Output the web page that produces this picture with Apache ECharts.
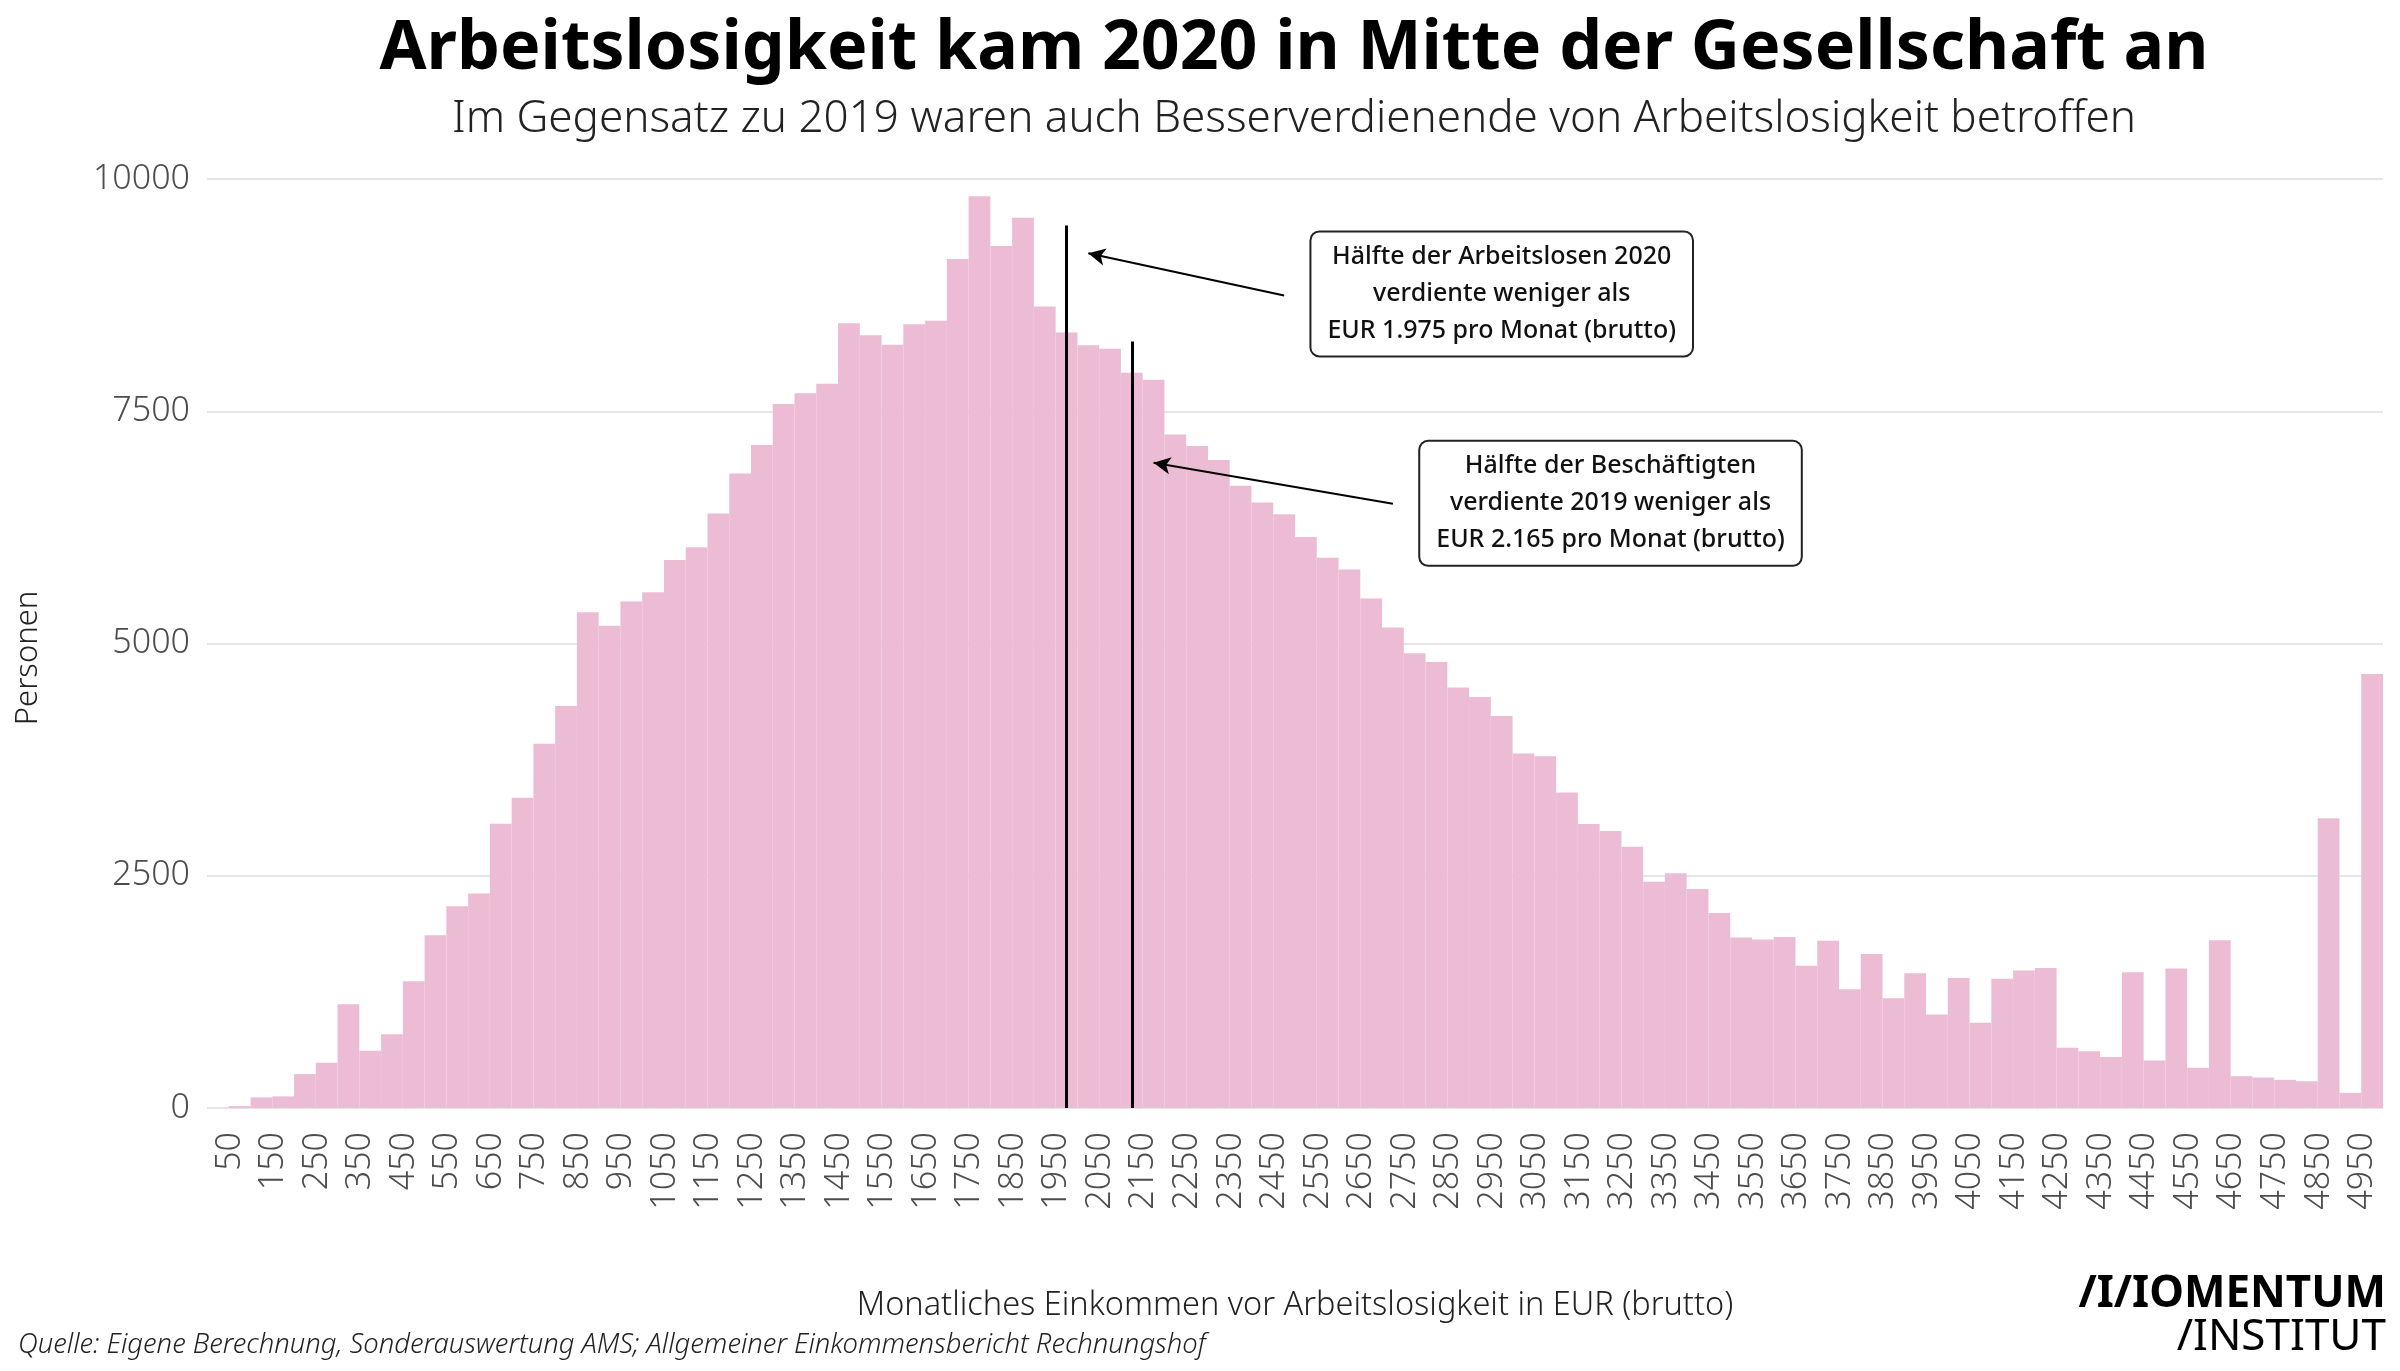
<!DOCTYPE html>
<html><head><meta charset="utf-8">
<script src="https://cdn.jsdelivr.net/npm/echarts@6/dist/echarts.min.js"></script>
<style>html,body{margin:0;padding:0;background:#fff}#c{width:2400px;height:1371px}</style>
</head><body><div id="c"></div>
<script>
// Income bins (EUR, brutto), 50-EUR steps; 5000 = 5000+
const categories = Array.from({length: 100}, (_, i) => String(50 + 50 * i));
// Persons per bin
const personen = [
  0, 20, 114, 125, 365, 487, 1118, 616, 795, 1365,
  1860, 2172, 2310, 3060, 3340, 3920, 4328, 5336, 5192, 5451,
  5552, 5898, 6037, 6400, 6830, 7136, 7579, 7695, 7795, 8447,
  8318, 8217, 8437, 8473, 9139, 9813, 9280, 9582, 8628, 8347,
  8210, 8174, 7914, 7839, 7251, 7126, 6974, 6697, 6517, 6391,
  6146, 5922, 5796, 5485, 5173, 4896, 4800, 4527, 4423, 4219,
  3815, 3785, 3396, 3058, 2981, 2812, 2435, 2527, 2358, 2100,
  1835, 1815, 1840, 1530, 1800, 1279, 1658, 1182, 1451, 1006,
  1400, 917, 1390, 1479, 1508, 648, 612, 548, 1461, 512,
  1501, 433, 1805, 342, 328, 303, 288, 3120, 163, 4672
];
const yTicks = [0, 2500, 5000, 7500, 10000];
// Median markers
const medianLines = [
  {cat: '2000', top: 9500},
  {cat: '2150', top: 8250}
];
const arrows = [
  {from: ['2500', 8745], to: ['2050', 9200]},
  {from: ['2750', 6505], to: ['2200', 6945]}
];
const boxes = [
  {at: ['3000', 8763], text: 'Hälfte der Arbeitslosen 2020\nverdiente weniger als\nEUR 1.975 pro Monat (brutto)'},
  {at: ['3250', 6509], text: 'Hälfte der Beschäftigten\nverdiente 2019 weniger als\nEUR 2.165 pro Monat (brutto)'}
];
const texts = {
  title: 'Arbeitslosigkeit kam 2020 in Mitte der Gesellschaft an',
  subtitle: 'Im Gegensatz zu 2019 waren auch Besserverdienende von Arbeitslosigkeit betroffen',
  xName: 'Monatliches Einkommen vor Arbeitslosigkeit in EUR (brutto)',
  yName: 'Personen',
  source: 'Quelle: Eigene Berechnung, Sonderauswertung AMS; Allgemeiner Einkommensbericht Rechnungshof',
  logo1: '/I/IOMENTUM',
  logo2: '/INSTITUT'
};

const FF = '"Noto Sans", "DejaVu Sans", sans-serif';
const chart = echarts.init(document.getElementById('c'), null, {renderer: 'canvas'});

const markLineData = [];
medianLines.forEach(m => markLineData.push([
  {coord: [m.cat, 0], symbol: 'none', lineStyle: {color: '#000', width: 3, type: 'solid'}},
  {coord: [m.cat, m.top], symbol: 'none'}
]));
arrows.forEach(a => markLineData.push([
  {coord: a.from, symbol: 'none', lineStyle: {color: '#000', width: 2, type: 'solid'}},
  {coord: a.to, symbol: 'arrow', symbolSize: [13, 17]}
]));

chart.setOption({
  animation: false,
  backgroundColor: '#fff',
  textStyle: {fontFamily: FF},
  grid: {left: 207, right: 17, top: 179, bottom: 263, containLabel: false},
  xAxis: {
    type: 'category',
    data: categories,
    boundaryGap: true,
    axisLine: {show: false},
    axisTick: {show: false},
    splitLine: {show: false},
    axisLabel: {
      interval: 1, rotate: 90, fontSize: 34, color: '#4d4d4d', fontWeight: 300,
      fontFamily: FF, margin: 24, verticalAlign: 'top', lineHeight: 24
    }
  },
  yAxis: {
    type: 'value', min: yTicks[0], max: yTicks[yTicks.length - 1], interval: 2500,
    axisLine: {show: false}, axisTick: {show: false},
    splitLine: {lineStyle: {color: '#e6e6e6', width: 2}},
    axisLabel: {fontSize: 34, color: '#4d4d4d', fontWeight: 300, fontFamily: FF, margin: 17,
      formatter: v => String(v)}
  },
  series: [{
    type: 'bar',
    data: personen,
    barCategoryGap: '0%',
    itemStyle: {color: '#ecbcd5'},
    silent: true,
    markLine: {
      silent: true, animation: false,
      label: {show: false},
      lineStyle: {type: 'solid', color: '#000'},
      data: markLineData
    },
    markPoint: {
      silent: true, animation: false,
      symbol: 'rect', symbolSize: 1,
      itemStyle: {color: 'rgba(0,0,0,0)'},
      label: {
        show: true, position: 'inside', color: '#111', fontSize: 25, lineHeight: 37,
        fontFamily: FF, fontWeight: 500, align: 'center',
        backgroundColor: '#fff', borderColor: '#222', borderWidth: 2, borderRadius: 8,
        padding: [6, 16]
      },
      data: boxes.map(b => ({coord: b.at, value: 0, label: {formatter: b.text}}))
    }
  }],
  graphic: [
    {type: 'text', x: 1294, y: 50, style: {text: texts.title, font: 'bold 68px ' + FF, fill: '#000', align: 'center', verticalAlign: 'middle'}},
    {type: 'text', x: 1294, y: 119, style: {text: texts.subtitle, font: '300 44px ' + FF, fill: '#222', align: 'center', verticalAlign: 'middle'}},
    {type: 'text', x: 1295, y: 1306, style: {text: texts.xName, font: '300 32.5px ' + FF, fill: '#222', align: 'center', verticalAlign: 'middle'}},
    {type: 'text', x: 28, y: 658, rotation: Math.PI / 2, style: {text: texts.yName, font: '300 31px ' + FF, fill: '#222', align: 'center', verticalAlign: 'middle'}},
    {type: 'text', x: 18, y: 1345, style: {text: texts.source, font: 'italic 300 27.4px ' + FF, fill: '#222', align: 'left', verticalAlign: 'middle'}},
    {type: 'text', x: 2386, y: 1294, style: {text: texts.logo1, font: 'bold 44px ' + FF, fill: '#000', align: 'right', verticalAlign: 'middle'}},
    {type: 'text', x: 2386, y: 1337, style: {text: texts.logo2, font: '44px ' + FF, fill: '#000', align: 'right', verticalAlign: 'middle'}}
  ]
});
</script></body></html>
